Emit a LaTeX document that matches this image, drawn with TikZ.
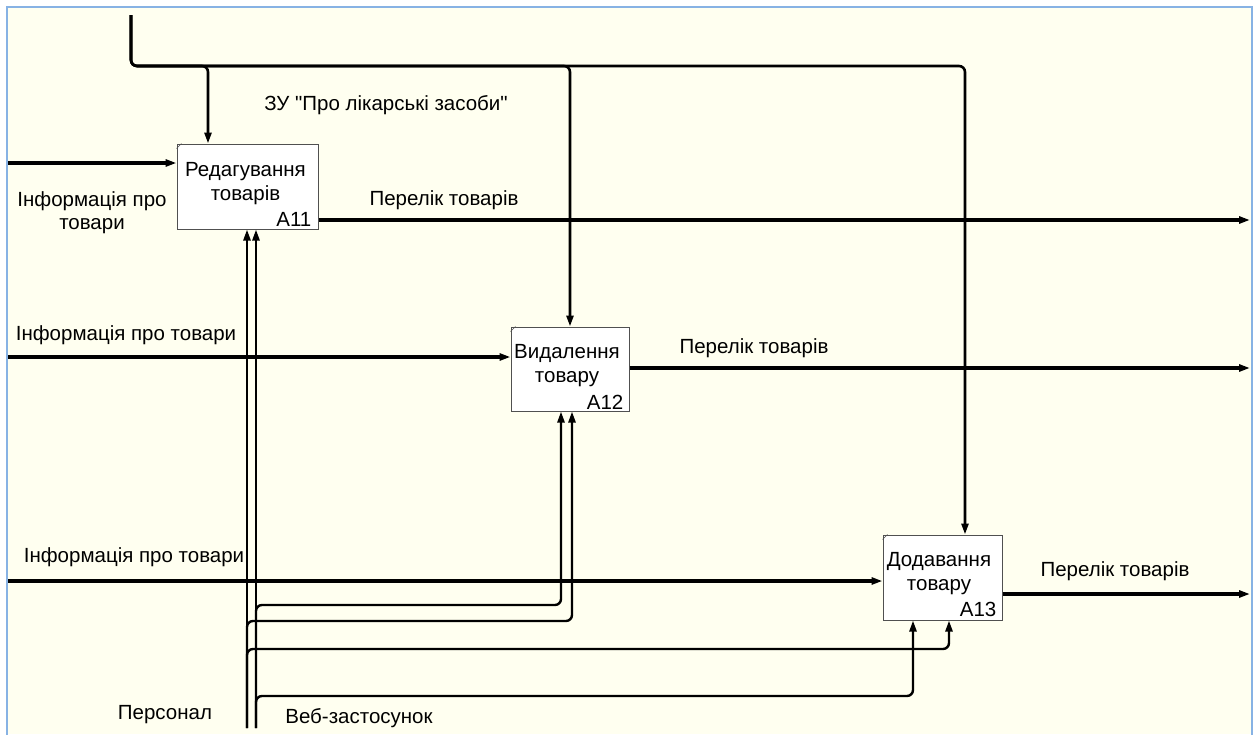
\documentclass[tikz,border=0pt]{standalone}
\usepackage{fontspec}
\setmainfont{Liberation Sans}
\usetikzlibrary{arrows.meta,calc}
\definecolor{paper}{RGB}{255,255,240}
\definecolor{framecol}{RGB}{135,178,228}
\definecolor{boxline}{RGB}{80,80,80}
\begin{document}
\begin{tikzpicture}[x=1pt,y=-1pt,
  every node/.style={font=\fontsize{20.5}{23.5}\selectfont, inner sep=0pt},
  func/.style={draw=boxline, line width=1pt, fill=white, inner sep=0pt},
  tunnel/.style={draw=boxline, line width=0.5pt},
  lbl/.style={align=center},
  tip/.style={-{Triangle[length=11pt,width=7pt]}},
  flow/.style={line width=3.2pt, tip},
  ctrl/.style={line width=2.6pt, tip, rounded corners=6pt},
  mech/.style={line width=2.4pt, tip, rounded corners=6pt},
]
\useasboundingbox (0,0) rectangle (1256,734);
\fill[white] (0,0) rectangle (1256,734);
\fill[paper] (7,7) rectangle (1252,734);
\draw[framecol, line width=2pt] (7,740) -- (7,7) -- (1252,7) -- (1252,740);

% activity boxes
\node[func, minimum width=141pt, minimum height=85pt] (A11) at (247.5,186.5) {};
\node[func, minimum width=118pt, minimum height=84pt] (A12) at (570,369) {};
\node[func, minimum width=119pt, minimum height=85pt] (A13) at (942.5,577.5) {};
\foreach \b in {A11,A12,A13}
  \draw[tunnel] ($(\b.north west)+(0,5)$) -- ($(\b.north west)+(5,0)$);

\node[lbl] (t11) at (245.5,183.5) {Редагування\\товарів};
\node[lbl] (t12) at (567,365.5) {Видалення\\товару};
\node[lbl] (t13) at (939,573.5) {Додавання\\товару};
\node[anchor=base east] (id11) at ($(A11.south east)+(-7,-3)$) {A11};
\node[anchor=base east] (id12) at ($(A12.south east)+(-6,-2)$) {A12};
\node[anchor=base east] (id13) at ($(A13.south east)+(-6,-4)$) {A13};

% control
\coordinate (law) at (131,15);
\draw[ctrl] (law) |- (208,66) -- (208,66 |- A11.north);
\draw[ctrl] (law) |- (570,66) -- (570,66 |- A12.north);
\draw[ctrl] (law) |- (965,66) -- (965,66 |- A13.north);

% inputs
\coordinate (i1) at (8,163);
\coordinate (i2) at (8,357);
\coordinate (i3) at (8,581);
\draw[flow] (i1) -- (A11.west |- i1);
\draw[flow] (i2) -- (A12.west |- i2);
\draw[flow] (i3) -- (A13.west |- i3);

% outputs
\coordinate (o1) at (1250,220);
\coordinate (o2) at (1250,368);
\coordinate (o3) at (1250,594);
\draw[flow] (A11.east |- o1) -- (o1);
\draw[flow] (A12.east |- o2) -- (o2);
\draw[flow] (A13.east |- o3) -- (o3);

% mechanisms
\coordinate (pers) at (247,728);
\coordinate (web) at (256,728);
\draw[mech] (pers) -- (pers |- A11.south);
\draw[mech] (web) -- (web |- A11.south);
\draw[mech] (web) |- (561,605) -- (561,605 |- A12.south);
\draw[mech] (pers) |- (572,621) -- (572,621 |- A12.south);
\draw[mech] (pers) |- (949,649) -- (949,649 |- A13.south);
\draw[mech] (web) |- (913,696) -- (913,696 |- A13.south);

% arrow labels
\node[lbl] (lawlbl) at (386,105) {ЗУ \textquotedbl Про лікарські засоби\textquotedbl};
\node[lbl] (in1lbl) at (92,212.5) {Інформація про\\товари};
\node (out1lbl) at (444,200) {Перелік товарів};
\node (in2lbl) at (126,335) {Інформація про товари};
\node (out2lbl) at (754,348) {Перелік товарів};
\node (in3lbl) at (134,557) {Інформація про товари};
\node (out3lbl) at (1115,571) {Перелік товарів};
\node (perslbl) at (165,715) {Персонал};
\node (weblbl) at (359,718) {Веб-застосунок};
\end{tikzpicture}
\end{document}
